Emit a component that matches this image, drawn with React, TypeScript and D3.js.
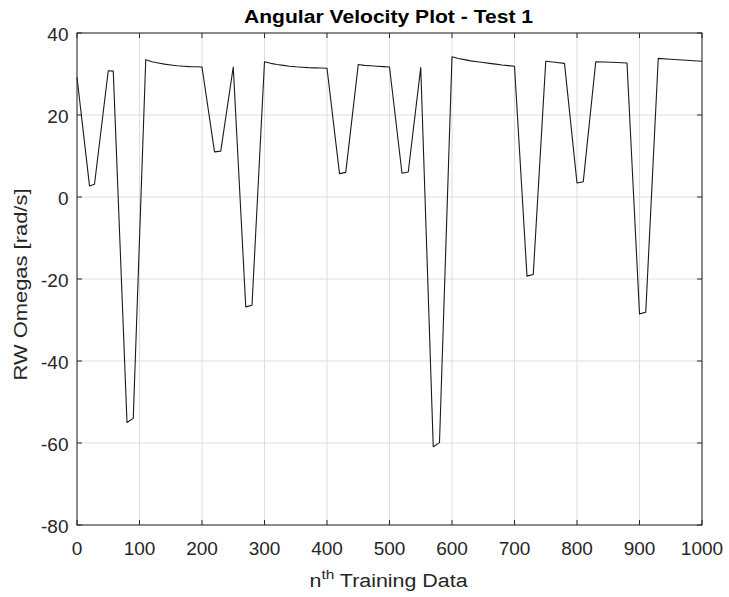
import React from "react";
import * as d3 from "d3";

const W = 729;
const H = 597;

// sample index (nth training data)
const xValues = [
  0, 20, 28, 50, 58, 80, 90,
  110, 120, 130, 140, 150, 160, 170, 180, 190, 200,
  220, 230, 250, 270, 280,
  300, 310, 320, 330, 340, 350, 360, 370, 380, 390, 400,
  420, 430, 450, 460, 470, 480, 490, 500,
  520, 530, 550, 570, 580,
  600, 610, 620, 630, 640, 650, 660, 670, 680, 690, 700,
  720, 730, 750, 765, 780, 800, 810, 830, 855, 880, 900, 910,
  930, 950, 975, 1000,
];

// RW omegas [rad/s]
const omegaValues = [
  29.2, 2.7, 3.1, 30.8, 30.7, -55.0, -54.0,
  33.5, 33.0, 32.7, 32.4, 32.2, 32.0, 31.9, 31.8, 31.75, 31.7,
  11.0, 11.2, 31.7, -26.8, -26.4,
  33.0, 32.6, 32.3, 32.1, 31.9, 31.75, 31.65, 31.55, 31.5, 31.45, 31.4,
  5.7, 6.0, 32.3, 32.1, 32.0, 31.9, 31.8, 31.7,
  5.8, 6.1, 31.6, -60.9, -59.9,
  34.2, 33.8, 33.5, 33.2, 33.0, 32.8, 32.6, 32.4, 32.2, 32.05, 31.9,
  -19.3, -18.9, 33.1, 32.85, 32.6, 3.4, 3.7, 33.0, 32.85, 32.7, -28.5, -28.1,
  33.8, 33.6, 33.35, 33.1,
];

const xTicks = [0, 100, 200, 300, 400, 500, 600, 700, 800, 900, 1000];
const yTicks = [-80, -60, -40, -20, 0, 20, 40];

const TITLE = "Angular Velocity Plot - Test 1";
const Y_LABEL = "RW Omegas [rad/s]";

export default function App() {
  const left = 77;
  const right = 702;
  const top = 33;
  const bottom = 525;

  const x = d3.scaleLinear().domain([0, 1000]).range([left, right]);
  const y = d3.scaleLinear().domain([-80, 40]).range([bottom, top]);

  const pts = xValues.map((v, i) => [v, omegaValues[i]] as [number, number]);
  const line = d3
    .line<[number, number]>()
    .x((d) => x(d[0]))
    .y((d) => y(d[1]));

  const axisColor = "#262626";
  const gridColor = "#dedede";
  const font = "'Liberation Sans', Arial, Helvetica, sans-serif";
  const tickLen = 5;

  return (
    <svg
      width={W}
      height={H}
      style={{ position: "absolute", left: 0, top: 0, background: "#fff" }}
      fontFamily={font}
    >
      <rect x={0} y={0} width={W} height={H} fill="#fff" />
      {/* grid */}
      {xTicks.map((t) => (
        <line
          key={"gx" + t}
          x1={x(t)}
          x2={x(t)}
          y1={top}
          y2={bottom}
          stroke={gridColor}
          strokeWidth={1}
        />
      ))}
      {yTicks.map((t) => (
        <line
          key={"gy" + t}
          x1={left}
          x2={right}
          y1={y(t)}
          y2={y(t)}
          stroke={gridColor}
          strokeWidth={1}
        />
      ))}
      {/* data line */}
      <path
        d={line(pts) || ""}
        fill="none"
        stroke="#1a1a1a"
        strokeWidth={1.1}
        strokeLinejoin="round"
      />
      {/* box */}
      <rect
        x={left}
        y={top}
        width={right - left}
        height={bottom - top}
        fill="none"
        stroke={axisColor}
        strokeWidth={1}
      />
      {/* ticks */}
      {xTicks.map((t) => (
        <g key={"tx" + t}>
          <line x1={x(t)} x2={x(t)} y1={bottom} y2={bottom - tickLen} stroke={axisColor} />
          <line x1={x(t)} x2={x(t)} y1={top} y2={top + tickLen} stroke={axisColor} />
          <text
            x={x(t)}
            y={554.5}
            textAnchor="middle"
            fontSize={19}
            fill={axisColor}
          >
            {t}
          </text>
        </g>
      ))}
      {yTicks.map((t) => (
        <g key={"ty" + t}>
          <line x1={left} x2={left + tickLen} y1={y(t)} y2={y(t)} stroke={axisColor} />
          <line x1={right} x2={right - tickLen} y1={y(t)} y2={y(t)} stroke={axisColor} />
          <text
            x={68.5}
            y={y(t) + 8}
            textAnchor="end"
            fontSize={19}
            fill={axisColor}
          >
            {t}
          </text>
        </g>
      ))}
      {/* title */}
      <text
        x={388.5}
        y={22.5}
        textAnchor="middle"
        fontSize={18}
        fontWeight="bold"
        fill="#000"
        textLength={289}
        lengthAdjust="spacingAndGlyphs"
      >
        {TITLE}
      </text>
      {/* x label */}
      <g transform="translate(309.5, 586.5) scale(1.19, 1)">
        <text x={0} y={0} fontSize={18} fill={axisColor}>
          <tspan>n</tspan>
          <tspan dy={-8} fontSize={13}>th</tspan>
          <tspan dy={8}> Training Data</tspan>
        </text>
      </g>
      {/* y label */}
      <text
        transform={`translate(26.5, 284.5) rotate(-90)`}
        textAnchor="middle"
        fontSize={18}
        fill={axisColor}
        textLength={192}
        lengthAdjust="spacingAndGlyphs"
      >
        {Y_LABEL}
      </text>
    </svg>
  );
}
